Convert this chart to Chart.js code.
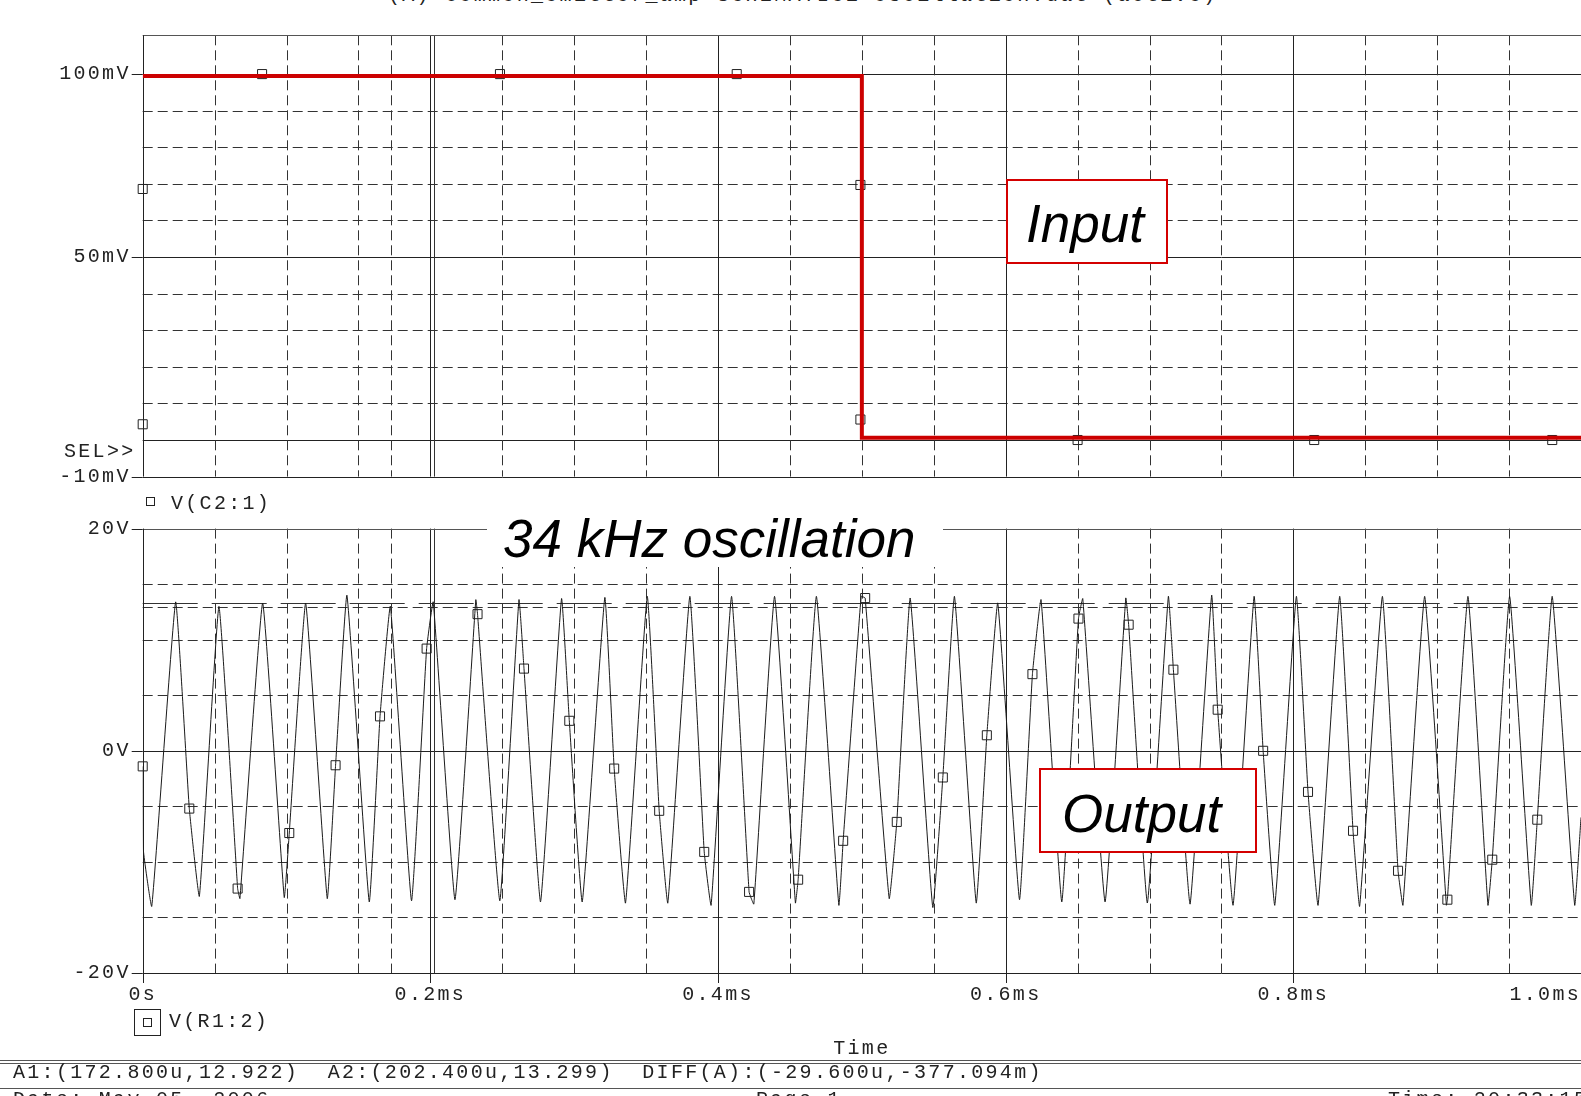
<!DOCTYPE html>
<html>
<head>
<meta charset="utf-8">
<script src="https://cdn.jsdelivr.net/npm/chart.js@4.4.0/dist/chart.umd.min.js"></script>
<style>
  html, body { margin: 0; padding: 0; background: #fff; width: 1581px; height: 1096px; overflow: hidden; position: relative; }
  .wrap { position: absolute; left: 0; width: 1581px; }
  .mono { position: absolute; font-family: "Liberation Mono", monospace; font-size: 20px; letter-spacing: 2.3px; color: #222; white-space: pre; line-height: 1; }
  .note { position: absolute; font-family: "Liberation Sans", Arial, sans-serif; font-style: italic; font-size: 53px; color: #000; white-space: pre; line-height: 1; }
  .redbox { position: absolute; border: 2px solid #d40000; background: #fff; box-sizing: border-box; }
  .rule { position: absolute; left: 0; width: 1581px; height: 1px; background: #555; }
  .sq { position: absolute; width: 9px; height: 9px; border: 1px solid #222; box-sizing: border-box; }
</style>
</head>
<body>
<div class="mono" style="left:388px;top:-14px">(A) common_emitter_amp-SCHEMATIC1-oscillation.dat (active)</div>

<div class="wrap" style="top:0;height:492px"><canvas id="inputChart"></canvas></div>
<div class="wrap" style="top:480px;height:600px"><canvas id="outputChart"></canvas></div>

<div class="mono" style="left:64px;top:442px">SEL&gt;&gt;</div>
<div class="sq" style="left:146px;top:497px"></div>
<div class="mono" style="left:171px;top:494px">V(C2:1)</div>

<div style="position:absolute;left:134px;top:1009px;width:27px;height:27px;border:1px solid #222;box-sizing:border-box"></div>
<div class="sq" style="left:143px;top:1018px"></div>
<div class="mono" style="left:169px;top:1012px">V(R1:2)</div>

<div class="rule" style="top:1060px"></div>
<div class="rule" style="top:1063px"></div>
<div class="mono" style="left:13px;top:1063px">A1:(172.800u,12.922)  A2:(202.400u,13.299)  DIFF(A):(-29.600u,-377.094m)</div>
<div class="rule" style="top:1088px"></div>
<div class="mono" style="left:13px;top:1090px">Date: May 05, 2006</div>
<div class="mono" style="left:756px;top:1090px">Page 1</div>
<div class="mono" style="left:1388px;top:1090px">Time: 20:33:15</div>

<div class="redbox" style="left:1006px;top:179px;width:162px;height:85px"></div>
<div class="note" style="left:1026px;top:197px">Input</div>

<div class="redbox" style="left:1039px;top:768px;width:218px;height:85px"></div>
<div class="note" style="left:1062px;top:787px">Output</div>

<div style="position:absolute;left:487px;top:505px;width:456px;height:62px;background:#fff"></div>
<div class="note" style="left:503px;top:512px">34 kHz oscillation</div>

<script>
// time axis (ms)
const timeTicks = [0, 0.2, 0.4, 0.6, 0.8, 1.0];
const timeTickLabels = ['0s', '0.2ms', '0.4ms', '0.6ms', '0.8ms', '1.0ms'];
const timeMinor = [0.05, 0.1, 0.15, 0.25, 0.3, 0.35, 0.45, 0.5, 0.55, 0.65, 0.7, 0.75, 0.85, 0.9, 0.95];
const timeMajor = [0.2, 0.4, 0.6, 0.8];

// cursors A1 / A2
const cursorTimes = [0.1728, 0.2024];
const cursorVolts = [12.922, 13.299];

// input plot (mV)
const inTickVals = [100, 50, -10];
const inTickLabels = ['100mV', '50mV', '-10mV'];
const inGridDash = [10, 20, 30, 40, 60, 70, 80, 90];
const inGridSolid = [0, 50, 100];
const inputTime = [0, 0.5, 0.5, 1.0];
const inputMv = [99.5, 99.5, 0.6, 0.6];
const inMarkTime = [0, 0, 0.083, 0.2484, 0.413, 0.499, 0.499, 0.65, 0.8145, 0.98];
const inMarkMv = [68.6, 4.3, 100, 100, 100, 69.7, 5.6, 0, 0, 0];

// output plot (V)
const outTickVals = [20, 0, -20];
const outTickLabels = ['20V', '0V', '-20V'];
const outGridDash = [-15, -10, -5, 5, 10, 15];
const outGridSolid = [0];
const outTime = [0, 0.0005, 0.0063, 0.0229, 0.0394, 0.0530, 0.0676, 0.0834, 0.0984, 0.1133,
  0.1283, 0.1420, 0.1575, 0.1722, 0.1869, 0.2020, 0.2171, 0.2316, 0.2483, 0.2616,
  0.2766, 0.2912, 0.3056, 0.3213, 0.3357, 0.3508, 0.3651, 0.3804, 0.3952, 0.4094,
  0.4249, 0.4393, 0.4538, 0.4684, 0.4840, 0.4995, 0.5190, 0.5336, 0.5493, 0.5644,
  0.5795, 0.5945, 0.6096, 0.6246, 0.6390, 0.6536, 0.6691, 0.6835, 0.6985, 0.7131,
  0.7282, 0.7432, 0.7581, 0.7727, 0.7871, 0.8021, 0.8172, 0.8322, 0.8461, 0.8619,
  0.8762, 0.8913, 0.9064, 0.9214, 0.9353, 0.9504, 0.9654, 0.9800, 0.9956, 1.0];
const outVolt = [-1.4, -9, -14.0, 13.4, -13.1, 13.0, -13.3, 13.3, -13.2, 13.3,
  -13.3, 14.0, -13.6, 13.0, -13.5, 13.4, -13.4, 13.6, -13.5, 13.6,
  -13.6, 13.7, -13.6, 13.8, -13.7, 13.9, -13.7, 13.9, -13.9, 13.9,
  -13.8, 13.9, -13.7, 13.9, -13.9, 13.9, -13.3, 13.75, -14.1, 13.9,
  -13.7, 13.3, -13.4, 13.6, -13.6, 13.7, -13.6, 13.75, -13.7, 13.9,
  -13.8, 14.0, -13.9, 13.9, -13.9, 13.9, -13.9, 13.9, -14.0, 13.9,
  -13.9, 13.9, -13.9, 13.9, -13.9, 13.9, -13.9, 13.9, -13.9, -6];
const outMarkTime = [0, 0.0324, 0.066, 0.1019, 0.1341, 0.165, 0.1974, 0.2328,
  0.2651, 0.2966, 0.3278, 0.3591, 0.3904, 0.4216, 0.4557, 0.487,
  0.5023, 0.5243, 0.5563, 0.5869, 0.6186, 0.6506, 0.6855, 0.7166, 0.7474,
  0.779, 0.8102, 0.8415, 0.8728, 0.9071, 0.9383, 0.9696];
const outMarkVolt = [-1.4, -5.2, -12.4, -7.4, -1.3, 3.1, 9.2, 12.3,
  7.4, 2.7, -1.6, -5.4, -9.1, -12.7, -11.6, -8.1,
  13.75, -6.4, -2.4, 1.4, 6.9, 11.9, 11.35, 7.3, 3.7,
  0, -3.7, -7.2, -10.8, -13.4, -9.8, -6.2];

const MONO = "'Liberation Mono', monospace";
const DASH = [10, 5];

const pspiceGrid = {
  id: 'pspiceGrid',
  beforeDraw(chart, args, opts) {
    chart.ctx.letterSpacing = '2.3px';
    const xs = chart.scales.x;
    if (opts.xLabels) {
      // last label is pulled inside the window, like the original plot
      const items = xs.getLabelItems();
      const last = items[items.length - 1];
      if (last) {
        last.options.textAlign = 'right';
        last.options.translation[0] = chart.chartArea.right;
      }
    }
  },
  beforeDatasetsDraw(chart, args, opts) {
    const { ctx, chartArea: a, scales: { x: xs, y: ys } } = chart;
    const snap = (v) => Math.round(v) + 0.5;
    const line = (x1, y1, x2, y2, dash, color) => {
      ctx.save();
      ctx.beginPath();
      ctx.setLineDash(dash || []);
      ctx.strokeStyle = color || '#333';
      ctx.lineWidth = 1;
      ctx.moveTo(x1, y1);
      ctx.lineTo(x2, y2);
      ctx.stroke();
      ctx.restore();
    };

    opts.yDash.forEach((v) => { const y = snap(ys.getPixelForValue(v)); line(a.left, y, a.right, y, DASH); });
    opts.ySolid.forEach((v) => { const y = snap(ys.getPixelForValue(v)); line(a.left, y, a.right, y, [], '#222'); });
    timeMinor.forEach((t) => { const x = snap(xs.getPixelForValue(t)); line(x, a.top, x, a.bottom, DASH); });
    timeMajor.forEach((t) => { const x = snap(xs.getPixelForValue(t)); line(x, a.top, x, a.bottom, [], '#222'); });

    // cursors
    const c1 = snap(xs.getPixelForValue(cursorTimes[0]));
    const c2 = snap(xs.getPixelForValue(cursorTimes[1]));
    line(c1, a.top, c1, a.bottom, DASH);
    line(c2, a.top, c2, a.bottom, [], '#333');
    if (opts.hCursors) {
      const h1 = snap(ys.getPixelForValue(cursorVolts[0]));
      const h2 = snap(ys.getPixelForValue(cursorVolts[1]));
      line(a.left, h1, a.right, h1, DASH);
      line(a.left, h2, a.right, h2, [55, 14], '#333');
    }

    // frame
    line(a.left, snap(a.top), a.right, snap(a.top), [], '#555');
    line(a.left, snap(a.bottom), a.right, snap(a.bottom), [], '#222');
    line(snap(a.left), a.top, snap(a.left), a.bottom, [], '#222');

    // tick marks
    opts.yTicks.forEach((v) => { const y = snap(ys.getPixelForValue(v)); line(a.left - 11, y, a.left, y, [], '#222'); });
    if (opts.xLabels) {
      timeTicks.forEach((t) => { const x = snap(xs.getPixelForValue(t)); line(x, a.bottom, x, a.bottom + 10, [], '#222'); });
    }
  }
};

const toPoints = (xsArr, ysArr) => xsArr.map((t, i) => ({ x: t, y: ysArr[i] }));

const yAxis = (min, max, vals, labels) => ({
  type: 'linear',
  min, max,
  grid: { display: false, drawTicks: false },
  border: { display: false },
  afterBuildTicks: (s) => { s.ticks = vals.map((v) => ({ value: v })); },
  afterFit: (s) => { s.width = 142.7; s.paddingTop = 0; s.paddingBottom = 0; },
  ticks: {
    autoSkip: false,
    padding: 12,
    color: '#222',
    font: { family: MONO, size: 20 },
    callback: (v, i) => labels[i]
  }
});

new Chart(document.getElementById('inputChart'), {
  type: 'scatter',
  data: {
    datasets: [
      {
        data: toPoints(inputTime, inputMv),
        showLine: true,
        borderColor: '#cc0000',
        borderWidth: 4,
        borderJoinStyle: 'miter',
        pointRadius: 0,
        tension: 0,
        order: 0
      },
      {
        data: toPoints(inMarkTime, inMarkMv),
        showLine: false,
        pointStyle: 'rect',
        pointRadius: 6.4,
        borderColor: '#222',
        borderWidth: 1,
        backgroundColor: 'rgba(0,0,0,0)',
        clip: false,
        order: 1
      }
    ]
  },
  options: {
    responsive: true,
    maintainAspectRatio: false,
    animation: false,
    devicePixelRatio: 1,
    layout: { autoPadding: false, padding: { top: 35.3, right: 0, bottom: 15.4, left: 0 } },
    scales: {
      x: { type: 'linear', min: 0, max: 1.0, display: false },
      y: yAxis(-10, 110.6, inTickVals, inTickLabels)
    },
    plugins: {
      legend: { display: false },
      tooltip: { enabled: false },
      pspiceGrid: { yDash: inGridDash, ySolid: inGridSolid, yTicks: inTickVals, xLabels: false, hCursors: false }
    }
  },
  plugins: [pspiceGrid]
});

const outPoints = toPoints(outTime, outVolt)
  .concat(toPoints(outMarkTime, outMarkVolt))
  .sort((p, q) => p.x - q.x);

new Chart(document.getElementById('outputChart'), {
  type: 'scatter',
  data: {
    datasets: [
      {
        data: outPoints,
        showLine: true,
        borderColor: '#1a1a1a',
        borderWidth: 1,
        pointRadius: 0,
        tension: 0.1,
        order: 1
      },
      {
        data: toPoints(outMarkTime, outMarkVolt),
        showLine: false,
        pointStyle: 'rect',
        pointRadius: 6.4,
        borderColor: '#222',
        borderWidth: 1,
        backgroundColor: 'rgba(0,0,0,0)',
        clip: false,
        order: 0
      }
    ]
  },
  options: {
    responsive: true,
    maintainAspectRatio: false,
    animation: false,
    devicePixelRatio: 1,
    layout: { autoPadding: false, padding: { top: 48.6, right: 0, bottom: 19.3, left: 0 } },
    scales: {
      x: {
        type: 'linear',
        min: 0, max: 1.0,
        grid: { display: false, drawTicks: false },
        border: { display: false },
        afterBuildTicks: (s) => { s.ticks = timeTicks.map((v) => ({ value: v })); },
        afterFit: (s) => { s.height = 87.7; s.paddingLeft = 0; s.paddingRight = 0; },
        title: { display: true, text: 'Time', color: '#222', font: { family: MONO, size: 20 }, padding: 0 },
        ticks: {
          autoSkip: false,
          maxRotation: 0,
          padding: 10,
          color: '#222',
          font: { family: MONO, size: 20 },
          callback: (v, i) => timeTickLabels[i]
        }
      },
      y: yAxis(-20, 20, outTickVals, outTickLabels)
    },
    plugins: {
      legend: { display: false },
      tooltip: { enabled: false },
      pspiceGrid: { yDash: outGridDash, ySolid: outGridSolid, yTicks: outTickVals, xLabels: true, hCursors: true }
    }
  },
  plugins: [pspiceGrid]
});
</script>
</body>
</html>
